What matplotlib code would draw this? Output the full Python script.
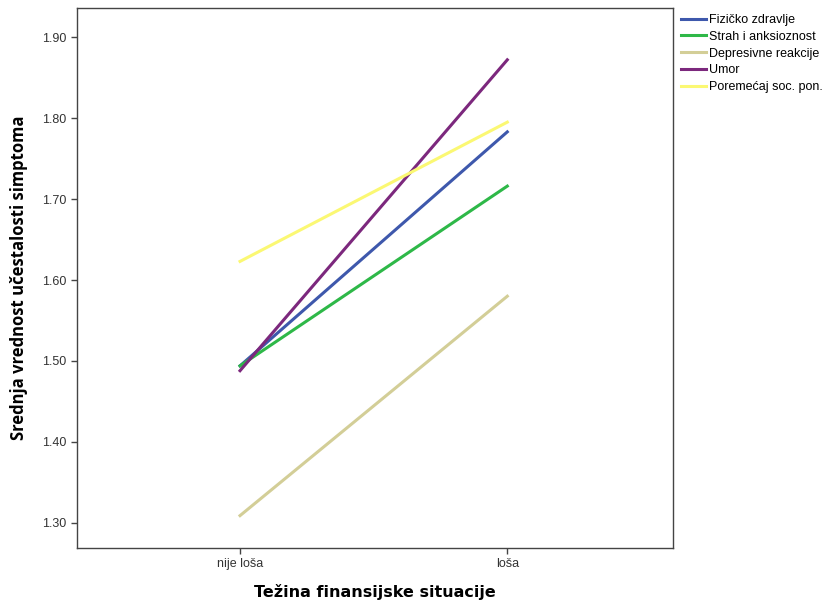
import numpy as np
import matplotlib.pyplot as plt

kategorije = ['nije loša', 'loša']
fizicko = [1.494, 1.783]
strah = [1.494, 1.716]
depresivne = [1.309, 1.580]
umor = [1.488, 1.872]
poremecaj = [1.623, 1.795]

serije = ['Fizičko zdravlje', 'Strah i anksioznost', 'Depresivne reakcije',
          'Umor', 'Poremećaj soc. pon.']
boje = ['#3E58AC', '#2EB848', '#D3CE97', '#7C287D', '#FBF873']
podaci = [fizicko, strah, depresivne, umor, poremecaj]

fig = plt.figure(figsize=(8.32, 6.04), dpi=100)
ax = fig.add_axes([77/832, 1-548/604, (673-77)/832, (548-8)/604])

x = np.arange(len(kategorije))
for naziv, boja, y in zip(serije, boje, podaci):
    ax.plot(x, y, color=boja, linewidth=2.2, label=naziv)

ax.set_xlim(-0.61, 1.62)
ax.set_ylim(1.269, 1.936)
ax.set_xticks(x)
ax.set_xticklabels(kategorije, fontsize=9, family='Liberation Sans', color='#333333')
ax.set_yticks([1.3, 1.4, 1.5, 1.6, 1.7, 1.8, 1.9])
ax.set_yticklabels(['%.2f' % v for v in ax.get_yticks()], fontsize=9,
                   family='Liberation Sans', color='#333333')
ax.tick_params(length=4, color='#444444', width=1)
for s in ax.spines.values():
    s.set_color('#444444')
    s.set_linewidth(1)

ax.set_xlabel('Težina finansijske situacije', fontsize=11.5, fontweight='bold',
              family='DejaVu Sans', labelpad=10)
ax.set_ylabel('Srednja vrednost učestalosti simptoma', fontsize=12, fontweight='bold',
              family='Open Sans', labelpad=10)

fig.legend(loc='upper left', bbox_to_anchor=(676/832, 1-9/604), frameon=False,
           prop={'family': 'Liberation Sans', 'size': 9}, handlelength=2.0,
           handletextpad=0.25, labelspacing=0.38, borderaxespad=0)

fig.savefig('out.png', dpi=100)
